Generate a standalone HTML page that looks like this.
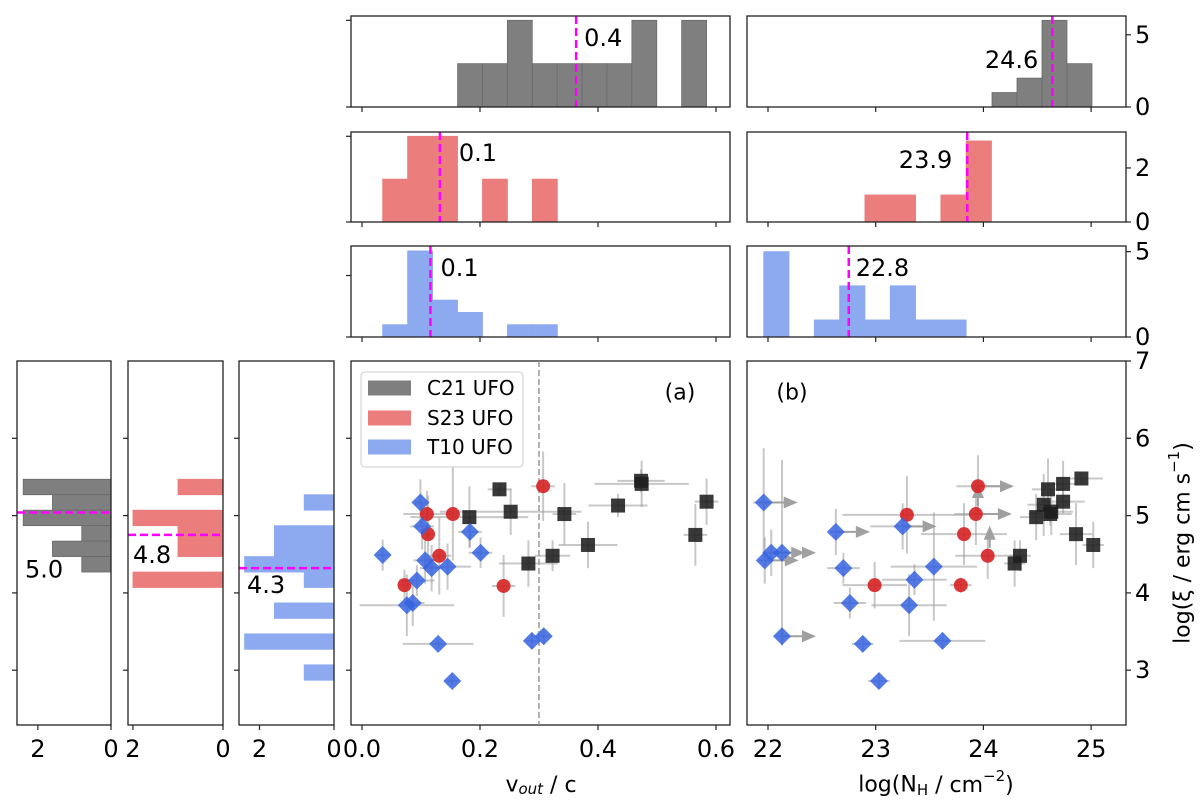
<!DOCTYPE html>
<html><head><meta charset="utf-8"><style>
html,body{margin:0;padding:0;background:#fff;}
svg{display:block;font-family:"DejaVu Sans","Liberation Sans",sans-serif;}
</style></head>
<body>
<svg id="fig" width="1200" height="808" viewBox="0 0 1200 808" xmlns="http://www.w3.org/2000/svg"></svg>
<script>
// ---------- DATA ----------
const vGray=[0.233,0.252,0.182,0.343,0.473,0.474,0.434,0.584,0.565,0.383,0.323,0.282];
const xiGrayA=[5.34,5.05,4.98,5.02,5.45,5.41,5.13,5.18,4.75,4.62,4.48,4.38];
const vErrGray=[0.02,0.12,0.1,0.02,0.04,0.08,0.05,0.02,0.02,0.05,0.03,0.05];
const xiErrGrayA=[0.07,0.3,0.4,0.4,0.15,0.3,0.15,0.3,0.4,0.3,0.2,0.3];
const vRed=[0.307,0.110,0.154,0.112,0.131,0.072,0.240];
const xiRedA=[5.38,5.02,5.02,4.76,4.48,4.10,4.09];
const vErrRed=[0.02,0.04,0.01,0.01,0.02,0.01,0.02];
const xiErrRedA=[0.45,0.3,0.6,0.5,0.5,0.2,0.4];
const vBlue=[0.099,0.102,0.183,0.035,0.201,0.107,0.118,0.145,0.093,0.076,0.086,0.129,0.288,0.308,0.153];
const xiBlueA=[5.17,4.86,4.79,4.49,4.52,4.42,4.32,4.34,4.16,3.84,3.87,3.34,3.38,3.44,2.86];
const vErrBlue=[0.01,0.02,0.02,0.01,0.02,0.02,0.02,0.04,0.03,0.08,0.02,0.06,0.01,0.01,0.01];
const xiErrBlueA=[0.3,0.3,0.2,0.2,0.2,0.3,0.3,0.3,0.2,0.4,0.3,0.05,0.1,0.1,0.05];

const nGray=[24.91,24.74,24.60,24.56,24.74,24.63,24.62,24.49,24.86,25.02,24.34,24.29];
const xiGrayB=[5.48,5.41,5.34,5.14,5.18,5.05,5.02,4.98,4.76,4.62,4.48,4.38];
const nErrGray=[0.2,0.15,0.15,0.15,0.2,0.2,0.2,0.15,0.15,0.1,0.1,0.1];
const nRed=[23.29,23.95,23.93,24.04,23.82,22.99,23.79];
const xiRedB=[5.01,5.38,5.02,4.48,4.76,4.10,4.10];
const nErrRed=[0.6,0.2,0.2,0.3,0.4,0.3,0.1];
const xiErrRedB=[0.5,0.4,0.4,0.3,0.4,0.3,0.1];
const nLimRed=[0,1,1,0,0,0,0];
const xiUpRed=[0,0,1,1,0,0,0];
const nBlue=[21.96,21.97,22.03,22.13,22.13,22.63,22.70,22.76,22.88,23.03,23.25,23.31,23.36,23.54,23.62];
const xiBlueB=[5.17,4.42,4.52,4.52,3.44,4.79,4.32,3.87,3.34,2.86,4.86,3.84,4.17,4.34,3.38];
const nErrBlue=[0.1,0.05,0.05,0.05,0.05,0.05,0.15,0.15,0.1,0.1,0.3,0.35,0.3,0.4,0.4];
const xiErrBlueB=[0.7,0.3,0.3,1.2,0.1,0.3,0.2,0.2,0.1,0.1,0.3,0.4,0.2,0.7,0.1];
const nLimBlue=[1,1,1,1,1,1,0,0,0,0,1,0,0,0,0];

// top histograms (v_out)
const vHistStart=[0.162,0.035,0.035];
const vHistWidth=[0.0422,0.0423,0.0423];
const vCountsGray=[1,1,2,1,1,1,1,2,0,2];
const vCountsRed=[1,2,2,0,1,0,1];
const vCountsBlue=[1,7,3,2,0,1,1];
const vMedians=[0.363,0.132,0.116];
const vMedianLabels=["0.4","0.1","0.1"];
// top histograms (N_H)
const nHistStart=[24.08,22.90,21.96];
const nHistWidth=[0.232,0.235,0.235];
const nCountsGray=[1,2,6,3];
const nCountsRed=[1,1,0,1,3];
const nCountsBlue=[5,0,1,3,1,3,1,1];
const nMedians=[24.64,23.85,22.75];
const nMedianLabels=["24.6","23.9","22.8"];
// side histograms (log xi)
const xiBinsGray=[5.37,5.17,4.97,4.77,4.57,4.37];
const xiValsGray=[2.4,1.6,2.4,0.8,1.6,0.8];
const xiBinsRed=[5.37,4.97,4.77,4.57,4.17];
const xiValsRed=[1,2,1,1,2];
const xiBinsBlue=[5.17,4.77,4.57,4.37,4.17,3.77,3.37,2.97];
const xiValsBlue=[0.8,1.6,1.6,2.4,0.8,1.6,2.4,0.8];
const xiMedians=[5.04,4.75,4.32];
const xiMedianLabels=["5.0","4.8","4.3"];

const vTicks=[0,0.2,0.4,0.6];
const vTickLabels=["0.0","0.2","0.4","0.6"];
const nTicks=[22,23,24,25];
const nTickLabels=["22","23","24","25"];
const xiTicks=[3,4,5,6,7];
const xiTickLabels=["3","4","5","6","7"];

// ---------- LAYOUT ----------
const svg=document.getElementById('fig');
const NS='http://www.w3.org/2000/svg';
const GRAY='#7f7f7f', RED='#eb7d7d', BLUE='#8da9ef';
const MGRAY='#1e1e1e', MRED='#d62222', MBLUE='#3563e0';
const PA={x0:351,x1:730}, PB={x0:747,x1:1126}, MY={y0:361,y1:725};
const vx=v=>362+v*590;
const nx=n=>768+(n-22)*107.7;
const xy=x=>361+(7-x)*77.3;
const topRows=[[16,107],[132,222],[246,337]];
const vYlim=[2.1,2.1,7.4], nYlim=[6.3,3.33,5.33];
const sideCols=[[17,111],[128,223],[239,334]];
const sideXlim=[2.57,2.11,2.55];

function el(tag,attrs,parent){const e=document.createElementNS(NS,tag);for(const k in attrs)e.setAttribute(k,attrs[k]);(parent||svg).appendChild(e);return e;}
function txt(s,x,y,size,anchor,parent){const t=el('text',{x:x,y:y,'font-size':size,'text-anchor':anchor||'middle','dominant-baseline':'central',fill:'#000'},parent);t.textContent=s;return t;}
function frame(x0,y0,x1,y1,name){const r=el('rect',{x:x0,y:y0,width:x1-x0,height:y1-y0,fill:'none',stroke:'#222','stroke-width':1.3});


return r;}
function tick(x1,y1,x2,y2){el('line',{x1:x1,y1:y1,x2:x2,y2:y2,stroke:'#222','stroke-width':1.2});}

// ---------- TOP HISTS ----------
const vCounts=[vCountsGray,vCountsRed,vCountsBlue], nCounts=[nCountsGray,nCountsRed,nCountsBlue];
const cols=[GRAY,RED,BLUE], names=['c21','s23','t10'];
for(let r=0;r<3;r++){
  const [ty0,ty1]=topRows[r];
  let g=el('g',{});
  
  
  const sy=(ty1-ty0)/vYlim[r];
  vCounts[r].forEach((c,i)=>{ if(!c)return;
    const a=vHistStart[r]+i*vHistWidth[r];
    const b=el('rect',{x:vx(a),y:ty1-c*sy,width:vx(a+vHistWidth[r])-vx(a),height:c*sy,fill:cols[r],stroke:r==0?'#6a6a6a':cols[r],'stroke-width':0.8},g);
    
    
  });
  let m=el('line',{x1:vx(vMedians[r]),x2:vx(vMedians[r]),y1:ty0,y2:ty1,stroke:'#ff00ff','stroke-width':2.5,'stroke-dasharray':'8,4'});
  
  
  const lOff=[[8,38],[19,153],[10,268]][r];
  let t=txt(vMedianLabels[r],vx(vMedians[r])+lOff[0],lOff[1],24,'start');
  
  
  frame(PA.x0,ty0,PA.x1,ty1,'vout-hist-frame');
  vTicks.forEach(v=>tick(vx(v),ty1,vx(v),ty1+5));
  const lt=[[2,'2'],[2,'2'],[5,'5']][r];
  tick(PA.x0-5,ty1-lt[0]*sy,PA.x0,ty1-lt[0]*sy); tick(PA.x0-5,ty1,PA.x0,ty1);
  g=el('g',{});
  
  
  const sy2=(ty1-ty0)/nYlim[r];
  nCounts[r].forEach((c,i)=>{ if(!c)return;
    const a=nHistStart[r]+i*nHistWidth[r];
    const b=el('rect',{x:nx(a),y:ty1-c*sy2,width:nx(a+nHistWidth[r])-nx(a),height:c*sy2,fill:cols[r],stroke:r==0?'#6a6a6a':cols[r],'stroke-width':0.8},g);
    
    
  });
  m=el('line',{x1:nx(nMedians[r]),x2:nx(nMedians[r]),y1:ty0,y2:ty1,stroke:'#ff00ff','stroke-width':2.5,'stroke-dasharray':'8,4'});
  
  
  const rOff=[[-14,60,'end'],[-15,160,'end'],[7,268,'start']][r];
  t=txt(nMedianLabels[r],nx(nMedians[r])+rOff[0],rOff[1],24,rOff[2]);
  
  
  frame(PB.x0,ty0,PB.x1,ty1,'nh-hist-frame');
  nTicks.forEach(n=>tick(nx(n),ty1,nx(n),ty1+5));
  const rt=[[5,'5'],[2,'2'],[5,'5']][r];
  tick(PB.x1,ty1-rt[0]*sy2,PB.x1+5,ty1-rt[0]*sy2); tick(PB.x1,ty1,PB.x1+5,ty1);
  txt(rt[1],PB.x1+9,ty1-rt[0]*sy2,24,'start'); txt('0',PB.x1+9,ty1,24,'start');
}

// ---------- SIDE HISTS ----------
const xiBins=[xiBinsGray,xiBinsRed,xiBinsBlue], xiVals=[xiValsGray,xiValsRed,xiValsBlue];
for(let c=0;c<3;c++){
  const [x0,x1]=sideCols[c]; const s=(x1-x0)/sideXlim[c];
  const g=el('g',{});
  
  
  xiBins[c].forEach((b,i)=>{
    const r=el('rect',{x:x1-xiVals[c][i]*s,y:xy(b+0.1),width:xiVals[c][i]*s,height:xy(b-0.1)-xy(b+0.1),fill:cols[c],stroke:c==0?'#6a6a6a':cols[c],'stroke-width':0.8},g);
    
    
  });
  const m=el('line',{x1:x0,x2:x1,y1:xy(xiMedians[c]),y2:xy(xiMedians[c]),stroke:'#ff00ff','stroke-width':2.5,'stroke-dasharray':'8,4'});
  
  
  const off=[[8,57],[5,20],[8,17]][c];
  const t=txt(xiMedianLabels[c],x0+off[0],xy(xiMedians[c])+off[1],24,'start');
  
  
  frame(x0,MY.y0,x1,MY.y1,'logxi-hist-frame');
  [3,4,5,6].forEach(v=>tick(x0-5,xy(v),x0,xy(v)));
  tick(x1-2*s,MY.y1,x1-2*s,MY.y1+5); tick(x1,MY.y1,x1,MY.y1+5);
  txt('2',x1-2*s,749,24); txt('0',x1,749,24);
}

// ---------- MAIN SCATTER ----------
function errbar(x1,y1,x2,y2){el('line',{x1:x1,y1:y1,x2:x2,y2:y2,stroke:'#9a9a9a','stroke-opacity':0.55,'stroke-width':2});}
function arrowR(x,y,len){el('line',{x1:x,y1:y,x2:x+len-12,y2:y,stroke:'#a0a0a0','stroke-width':2});el('polygon',{points:`${x+len-14},${y-6} ${x+len},${y} ${x+len-14},${y+6}`,fill:'#a0a0a0'});}
function arrowU(x,y,len){el('line',{x1:x,y1:y,x2:x,y2:y-len+12,stroke:'#a0a0a0','stroke-width':2});el('polygon',{points:`${x-6},${y-len+14} ${x},${y-len} ${x+6},${y-len+14}`,fill:'#a0a0a0'});}
function marker(kind,x,y,name){
  let m;
  if(kind==='sq') m=el('rect',{x:x-7,y:y-7,width:14,height:14,fill:MGRAY,'fill-opacity':0.88});
  else if(kind==='ci') m=el('circle',{cx:x,cy:y,r:7,fill:MRED,'fill-opacity':0.9});
  else m=el('polygon',{points:`${x},${y-9} ${x+9},${y} ${x},${y+9} ${x-9},${y}`,fill:MBLUE,'fill-opacity':0.85});
  
  
}
frame(PA.x0,MY.y0,PA.x1,MY.y1,'panel-a-frame');
let dl=el('line',{x1:vx(0.3),x2:vx(0.3),y1:MY.y0,y2:MY.y1,stroke:'#999','stroke-width':1.5,'stroke-dasharray':'6,3'});


const setsA=[[vGray,xiGrayA,vErrGray,xiErrGrayA,'sq','c21-point-a'],[vRed,xiRedA,vErrRed,xiErrRedA,'ci','s23-point-a'],[vBlue,xiBlueA,vErrBlue,xiErrBlueA,'di','t10-point-a']];
setsA.forEach(S=>S[0].forEach((v,i)=>{errbar(vx(v-S[2][i]),xy(S[1][i]),vx(v+S[2][i]),xy(S[1][i]));errbar(vx(v),xy(S[1][i]-S[3][i]),vx(v),xy(S[1][i]+S[3][i]));}));
setsA.forEach(S=>S[0].forEach((v,i)=>marker(S[4],vx(v),xy(S[1][i]),S[5])));
vTicks.forEach((v,i)=>{tick(vx(v),MY.y1,vx(v),MY.y1+5);txt(vTickLabels[i],vx(v),749,24);});
[3,4,5,6].forEach(v=>tick(PA.x0-5,xy(v),PA.x0,xy(v)));
let lab=txt('(a)',680,393,22);


const lg=el('g',{});


el('rect',{x:361,y:372,width:162,height:95,rx:4,fill:'#fff','fill-opacity':0.85,stroke:'#ccc','stroke-width':1},lg);
[['C21 UFO',GRAY,388],['S23 UFO',RED,418],['T10 UFO',BLUE,447]].forEach(e=>{
  const p=el('rect',{x:368,y:e[2]-7.5,width:43,height:15,fill:e[1]},lg);
  
  
  const t=txt(e[0],427,e[2],20,'start',lg);
  
  
});
let xl=txt('',541,785,22);
xl.innerHTML='v<tspan font-size="15" font-style="italic" dy="4">out</tspan><tspan dy="-4"> / c</tspan>';



frame(PB.x0,MY.y0,PB.x1,MY.y1,'panel-b-frame');
const setsB=[[nGray,xiGrayB,nErrGray,xiErrGrayA,'sq','c21-point-b'],[nRed,xiRedB,nErrRed,xiErrRedB,'ci','s23-point-b'],[nBlue,xiBlueB,nErrBlue,xiErrBlueB,'di','t10-point-b']];
setsB.forEach(S=>S[0].forEach((n,i)=>{errbar(nx(n-S[2][i]),xy(S[1][i]),nx(n+S[2][i]),xy(S[1][i]));errbar(nx(n),xy(S[1][i]-S[3][i]),nx(n),xy(S[1][i]+S[3][i]));}));
nRed.forEach((n,i)=>{if(nLimRed[i])arrowR(nx(n),xy(xiRedB[i]),36);if(xiUpRed[i])arrowU(nx(n)+2,xy(xiRedB[i])-8,22);});
nBlue.forEach((n,i)=>{if(nLimBlue[i])arrowR(nx(n),xy(xiBlueB[i]),34);});
setsB.forEach(S=>S[0].forEach((n,i)=>marker(S[4],nx(n),xy(S[1][i]),S[5])));
nTicks.forEach((n,i)=>{tick(nx(n),MY.y1,nx(n),MY.y1+5);txt(nTickLabels[i],nx(n),749,24);});
xiTicks.forEach((v,i)=>{tick(PB.x1,xy(v),PB.x1+5,xy(v));txt(xiTickLabels[i],PB.x1+9,xy(v),24,'start');});
lab=txt('(b)',792,393,22);


xl=txt('',936,785,22);
xl.innerHTML='log(N<tspan font-size="15" dy="5">H</tspan><tspan dy="-5"> / cm</tspan><tspan font-size="15" dy="-9">−2</tspan><tspan dy="9">)</tspan>';


const yl=txt('',0,0,22);
yl.setAttribute('transform','translate(1183,543) rotate(-90)');
yl.innerHTML='log(ξ / erg cm s<tspan font-size="15" dy="-9">−1</tspan><tspan dy="9">)</tspan>';


</script>
</body></html>
